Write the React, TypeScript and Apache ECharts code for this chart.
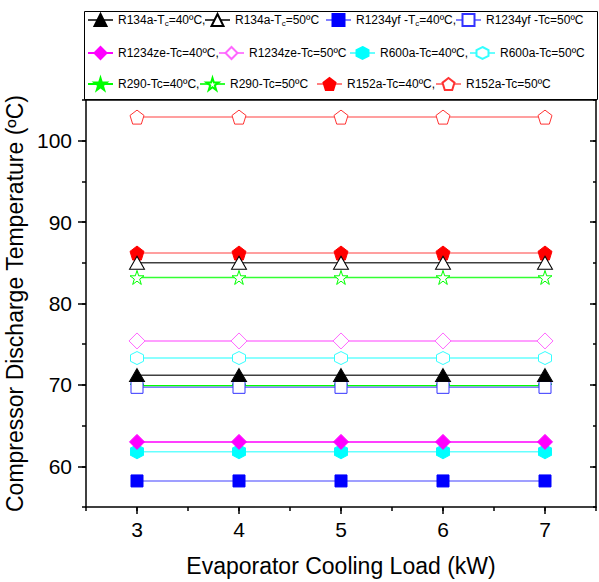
import React, { useEffect, useRef } from "react";
import * as echarts from "echarts";

const xValues = [3, 4, 5, 6, 7];
const xTickValues = [3, 4, 5, 6, 7];
const yTickValues = [60, 70, 80, 90, 100];

const r134a40 = [71.2, 71.2, 71.2, 71.2, 71.2];
const r134a50 = [85.0, 85.0, 85.0, 85.0, 85.0];
const r1234yf40 = [58.2, 58.2, 58.2, 58.2, 58.2];
const r1234yf50 = [69.7, 69.7, 69.7, 69.7, 69.7];
const r1234ze40 = [63.0, 63.0, 63.0, 63.0, 63.0];
const r1234ze50 = [75.4, 75.4, 75.4, 75.4, 75.4];
const r600a40 = [61.8, 61.8, 61.8, 61.8, 61.8];
const r600a50 = [73.3, 73.3, 73.3, 73.3, 73.3];
const r290_40 = [69.9, 69.9, 69.9, 69.9, 69.9];
const r290_50 = [83.2, 83.2, 83.2, 83.2, 83.2];
const r152a40 = [86.2, 86.2, 86.2, 86.2, 86.2];
const r152a50 = [102.9, 102.9, 102.9, 102.9, 102.9];

const seriesNames = [
  "R134a-Tc=40ºC,",
  "R134a-Tc=50ºC",
  "R1234yf -Tc=40ºC,",
  "R1234yf -Tc=50ºC",
  "R1234ze-Tc=40ºC,",
  "R1234ze-Tc=50ºC",
  "R600a-Tc=40ºC,",
  "R600a-Tc=50ºC",
  "R290-Tc=40ºC,",
  "R290-Tc=50ºC",
  "R152a-Tc=40ºC,",
  "R152a-Tc=50ºC",
];

const legendRich: Record<string, string> = {
  "R134a-Tc=40ºC,": "{a|R134a-T}{s|c}{a|=40ºC,}",
  "R134a-Tc=50ºC": "{a|R134a-T}{s|c}{a|=50ºC}",
  "R1234yf -Tc=40ºC,": "{a|R1234yf -T}{s|c}{a|=40ºC,}",
};

const PENTAGON = "path://M0,-1L0.951,-0.309L0.588,0.809L-0.588,0.809L-0.951,-0.309Z";
const HEXAGON = "path://M0,-1L0.866,-0.5L0.866,0.5L0,1L-0.866,0.5L-0.866,-0.5Z";
const STAR =
  "path://M0,-1L0.225,-0.309L0.951,-0.309L0.363,0.118L0.588,0.809L0,0.382L-0.588,0.809L-0.363,0.118L-0.951,-0.309L-0.225,-0.309Z";

const FONT = "Arial, 'Liberation Sans', Helvetica, sans-serif";

const seriesData = [
  r134a40, r134a50, r1234yf40, r1234yf50, r1234ze40, r1234ze50,
  r600a40, r600a50, r290_40, r290_50, r152a40, r152a50,
];

const styles = [
  { symbol: "triangle", size: [15, 13], fill: "#000000", border: "#000000", line: "#404040" },
  { symbol: "triangle", size: [15, 13], fill: "#ffffff", border: "#000000", line: "#404040" },
  { symbol: "rect", size: [12, 12], fill: "#0000ff", border: "#0000ff", line: "#8080ff" },
  { symbol: "rect", size: [12, 12], fill: "#ffffff", border: "#3333ff", line: "#8080ff" },
  { symbol: "diamond", size: [15, 15], fill: "#ff00ff", border: "#ff00ff", line: "#ff00ff" },
  { symbol: "diamond", size: [16, 16], fill: "#ffffff", border: "#ff66ff", line: "#ff80ff" },
  { symbol: HEXAGON, size: [13, 14], fill: "#00ffff", border: "#00ffff", line: "#66ffff" },
  { symbol: HEXAGON, size: [13, 13], fill: "#ffffff", border: "#33ffff", line: "#66ffff" },
  { symbol: STAR, size: [14, 14], fill: "#00ff00", border: "#00ff00", line: "#00ff00" },
  { symbol: STAR, size: [14, 14], fill: "#ffffff", border: "#00ff00", line: "#33ff33" },
  { symbol: PENTAGON, size: [14, 14], fill: "#ff0000", border: "#ff0000", line: "#ff8080" },
  { symbol: PENTAGON, size: [14, 14], fill: "#ffffff", border: "#ff3333", line: "#ff8080" },
];

const legendPos = [
  [87, 20], [204, 20], [325, 20], [455, 20],
  [87, 53], [218, 53], [349, 53], [469, 53],
  [87, 84], [199, 84], [316, 84], [435, 84],
];

export default function App() {
  const ref = useRef<HTMLDivElement>(null);
  useEffect(() => {
    if (!ref.current) return;
    const chart = echarts.init(ref.current, undefined, { renderer: "svg" });
    const axisLineStyle = { color: "#000", width: 1.5 };
    const option: any = {
      animation: false,
      backgroundColor: "#ffffff",
      textStyle: { fontFamily: FONT },
      grid: { left: 86, right: 3, top: 100, bottom: 75, show: false, containLabel: false, outerBoundsMode: "none" },
      graphic: [
        {
          type: "rect",
          shape: { x: 84.5, y: 11.5, width: 513, height: 88 },
          style: { fill: "none", stroke: "#000", lineWidth: 1 },
          z: 0,
        },
      ],
      legend: seriesNames.map((n, i) => ({
        data: [n],
        left: legendPos[i][0],
        top: legendPos[i][1] - 7,
        padding: 0,
        itemWidth: 25,
        itemHeight: 15,
        selectedMode: false,
        formatter: (name: string) => legendRich[name] || "{a|" + name + "}",
        textStyle: {
          fontFamily: FONT,
          color: "#000",
          rich: {
            a: { fontSize: 12, fontFamily: FONT, color: "#000", lineHeight: 15 },
            s: { fontSize: 8, fontFamily: FONT, color: "#000", lineHeight: 6, verticalAlign: "bottom" },
          },
        },
      })),
      xAxis: [
        {
          type: "value",
          min: 2.5,
          max: 7.5,
          position: "bottom",
          axisLine: { show: true, onZero: false, lineStyle: axisLineStyle },
          axisTick: { show: true, customValues: xTickValues, length: 7, lineStyle: axisLineStyle },
          axisLabel: { customValues: xTickValues, fontSize: 21, margin: 12, color: "#000", fontFamily: FONT },
          splitLine: { show: false },
          name: "Evaporator Cooling Load (kW)",
          nameLocation: "middle",
          nameGap: 47,
          nameTextStyle: { fontSize: 23, color: "#000", fontFamily: FONT },
        },
        {
          type: "value",
          min: 2.5,
          max: 7.5,
          interval: 0.5,
          position: "bottom",
          axisLine: { show: false, onZero: false },
          axisTick: { show: true, length: 4, lineStyle: axisLineStyle },
          axisLabel: { show: false },
          splitLine: { show: false },
        },
        {
          type: "value",
          min: 2.5,
          max: 7.5,
          position: "top",
          axisLine: { show: true, onZero: false, lineStyle: axisLineStyle },
          axisTick: { show: false },
          axisLabel: { show: false },
          splitLine: { show: false },
        },
      ],
      yAxis: [
        {
          type: "value",
          min: 55,
          max: 105,
          position: "left",
          axisLine: { show: true, onZero: false, lineStyle: axisLineStyle },
          axisTick: { show: true, customValues: yTickValues, length: 8, lineStyle: axisLineStyle },
          axisLabel: { customValues: yTickValues, fontSize: 21, margin: 14, color: "#000", fontFamily: FONT },
          splitLine: { show: false },
          name: "Compressor Discharge Temperature (ºC)",
          nameLocation: "middle",
          nameGap: 50,
          nameTextStyle: { fontSize: 23, color: "#000", fontFamily: FONT },
        },
        {
          type: "value",
          min: 55,
          max: 105,
          interval: 5,
          position: "left",
          axisLine: { show: false, onZero: false },
          axisTick: { show: true, length: 4, lineStyle: axisLineStyle },
          axisLabel: { show: false },
          splitLine: { show: false },
        },
        {
          type: "value",
          min: 55,
          max: 105,
          position: "right",
          axisLine: { show: true, onZero: false, lineStyle: axisLineStyle },
          axisTick: { show: true, inside: true, customValues: yTickValues, length: 6, lineStyle: axisLineStyle },
          axisLabel: { show: false },
          splitLine: { show: false },
        },
        {
          type: "value",
          min: 55,
          max: 105,
          interval: 5,
          position: "right",
          axisLine: { show: false, onZero: false },
          axisTick: { show: true, inside: true, length: 3, lineStyle: axisLineStyle },
          axisLabel: { show: false },
          splitLine: { show: false },
        },
      ],
      series: seriesNames.map((n, i) => ({
        type: "line",
        name: n,
        xAxisIndex: 0,
        yAxisIndex: 0,
        data: xValues.map((x, j) => [x, seriesData[i][j]]),
        symbol: styles[i].symbol,
        symbolSize: styles[i].size,
        showAllSymbol: true,
        lineStyle: { color: styles[i].line, width: 1.5 },
        itemStyle: { color: styles[i].fill, borderColor: styles[i].border, borderWidth: 1, opacity: 1 },
        emphasis: { disabled: true },
        z: 2 + (12 - i) * 0.01,
      })),
    };
    chart.setOption(option);
    return () => chart.dispose();
  }, []);
  return (
    <div
      ref={ref}
      style={{ position: "fixed", left: 0, top: 0, width: 599, height: 582 }}
    />
  );
}
